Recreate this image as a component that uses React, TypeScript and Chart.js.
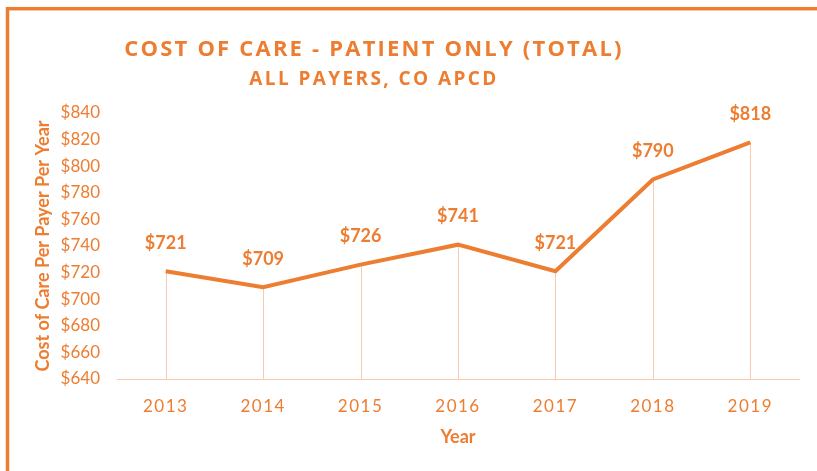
import React, { useEffect, useRef } from "react";
import { Chart, registerables } from "chart.js";

Chart.register(...registerables);

const categories = ["2013", "2014", "2015", "2016", "2017", "2018", "2019"];
const costValues = [721, 709, 726, 741, 721, 790, 818];
const yMin = 640;
const yMax = 840;
const yStep = 20;
const titleText = "COST OF CARE - PATIENT ONLY (TOTAL)";
const subtitleText = "ALL PAYERS, CO APCD";
const yAxisTitle = "Cost of Care Per Payer Per Year";
const xAxisTitle = "Year";

const ORANGE = "#ED7D31";
const LIGHT = "#F8CBAD";

const decorPlugin = {
  id: "decor",
  beforeDraw(chart: any) {
    const ctx = chart.ctx;
    ctx.save();
    ctx.fillStyle = "#ffffff";
    ctx.fillRect(0, 0, chart.width, chart.height);
    ctx.strokeStyle = ORANGE;
    ctx.lineWidth = 3.5;
    ctx.strokeRect(7.5, 8.7, chart.width + 50, chart.height + 50);
    ctx.restore();
  },
  afterLayout(chart: any) {
    const s = chart.scales.x;
    if (s && !s.__patched) {
      const orig = s.drawLabels;
      s.drawLabels = function (area: any) {
        const c = this.ctx;
        c.save();
        c.letterSpacing = "1.5px";
        orig.call(this, area);
        c.restore();
      };
      s.__patched = true;
    }
  },
  beforeDatasetsDraw(chart: any) {
    const ctx = chart.ctx;
    const meta = chart.getDatasetMeta(0);
    const bottom = chart.chartArea.bottom;
    ctx.save();
    ctx.strokeStyle = LIGHT;
    ctx.lineWidth = 1;
    meta.data.forEach((pt: any) => {
      const x = Math.round(pt.x) + 0.5;
      ctx.beginPath();
      ctx.moveTo(x, pt.y);
      ctx.lineTo(x, bottom);
      ctx.stroke();
    });
    ctx.restore();
  },
  afterDatasetsDraw(chart: any) {
    const ctx = chart.ctx;
    const meta = chart.getDatasetMeta(0);
    ctx.save();
    ctx.fillStyle = ORANGE;
    ctx.font = "bold 18px Lato";
    ctx.textAlign = "center";
    ctx.textBaseline = "middle";
    meta.data.forEach((pt: any, i: number) => {
      ctx.fillText("$" + costValues[i], pt.x, pt.y - 28);
    });
    // titles
    (ctx as any).letterSpacing = "2.2px";
    ctx.font = "bold 22px 'Open Sans'";
    ctx.fillText(titleText, 374, 50);
    (ctx as any).letterSpacing = "2.4px";
    ctx.font = "bold 19px 'Open Sans'";
    ctx.fillText(subtitleText, 374, 80);
    (ctx as any).letterSpacing = "0px";
    ctx.restore();
  },
};

export default function App() {
  const ref = useRef<HTMLCanvasElement | null>(null);
  useEffect(() => {
    document.body.style.margin = "0";
    if (!ref.current) return;
    const chart = new Chart(ref.current, {
      type: "line",
      data: {
        labels: categories,
        datasets: [
          {
            data: costValues,
            borderColor: ORANGE,
            borderWidth: 4,
            pointRadius: 0,
            tension: 0,
            fill: false,
          },
        ],
      },
      options: {
        animation: false,
        responsive: false,
        layout: { padding: { left: 32, right: 18, top: 113, bottom: 23 } },
        plugins: {
          legend: { display: false },
          tooltip: { enabled: false },
        },
        scales: {
          x: {
            offset: true,
            grid: { display: false, drawTicks: false },
            border: { display: true, color: LIGHT, width: 1 },
            ticks: {
              color: ORANGE,
              font: { family: "Lato", size: 17 },
              padding: 17,
            },
            title: {
              display: true,
              text: xAxisTitle,
              color: ORANGE,
              font: { family: "Lato", size: 18, weight: "bold" },
              padding: 0,
            },
            afterFit(axis: any) {
              axis.height = 69;
            },
          },
          y: {
            min: yMin,
            max: yMax,
            grid: { display: false, drawTicks: false },
            border: { display: false },
            ticks: {
              stepSize: yStep,
              color: ORANGE,
              font: { family: "Lato", size: 17 },
              padding: 17,
              callback: (v: any) => "$" + v,
            },
            title: {
              display: true,
              text: yAxisTitle,
              color: ORANGE,
              font: { family: "Lato", size: 18, weight: "bold" },
              padding: 0,
            },
            afterFit(axis: any) {
              axis.width = 85;
            },
          },
        },
      },
      plugins: [decorPlugin],
    });
    return () => chart.destroy();
  }, []);
  return (
    <div style={{ position: "absolute", left: 0, top: 0 }}>
      <canvas ref={ref} width={817} height={471} style={{ width: 817, height: 471, display: "block" }} />
    </div>
  );
}
